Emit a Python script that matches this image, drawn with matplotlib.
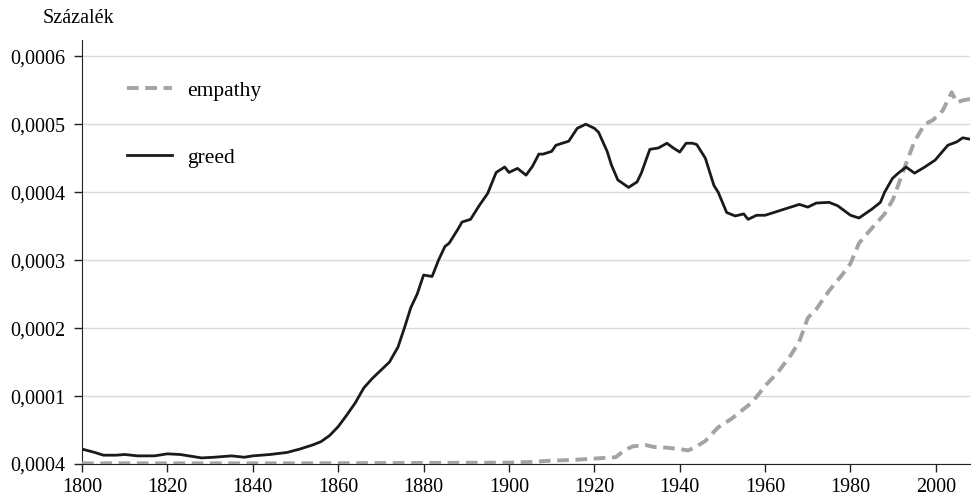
import matplotlib
matplotlib.use("Agg")
import matplotlib.pyplot as plt

plt.rcParams["font.family"] = ["Liberation Serif", "DejaVu Serif"]

greed_years = [1800, 1803, 1805, 1808, 1810, 1813, 1817, 1820, 1823, 1826, 1828, 1831, 1835, 1838,
               1840, 1844, 1848, 1851, 1854, 1856, 1858, 1860, 1862, 1864, 1866, 1868, 1870, 1872,
               1874, 1875.5, 1877, 1878.5, 1880, 1882, 1883.5, 1885, 1886, 1888, 1889, 1891, 1893,
               1895, 1897, 1899, 1900, 1902, 1904, 1905.5, 1907, 1908, 1910, 1911, 1914, 1916, 1918,
               1920, 1921, 1923, 1924, 1925.5, 1928, 1930, 1931, 1933, 1935, 1937, 1938.5, 1940,
               1941.5, 1943, 1944, 1946, 1948, 1949, 1951, 1953, 1955, 1956, 1958, 1960, 1962, 1965,
               1968, 1970, 1972, 1975, 1977, 1980, 1982, 1985, 1987, 1988, 1989.8, 1991, 1993, 1995,
               1997.4, 1999.8, 2002.8, 2004.9, 2006.3, 2008]
greed = [22, 17, 13, 13, 14, 12, 12, 15, 14, 11, 9, 10, 12, 10,
         12, 14, 17, 22, 28, 33, 42, 55, 72, 90, 112, 126, 138, 150,
         172, 200, 230, 250, 278, 276, 300, 320, 325, 345, 356, 360, 380,
         398, 429, 437, 429, 435, 425, 438, 456, 456, 460, 469, 475, 494, 500,
         494, 488, 460, 440, 418, 407, 415, 428, 463, 465, 472, 465, 459,
         472, 472, 470, 450, 410, 400, 370, 365, 368, 360, 366, 366, 370, 376,
         382, 378, 384, 385, 380, 366, 362, 375, 385, 400, 420, 427, 437, 428,
         437, 447, 469, 474, 480, 478]

empathy_years = [1800, 1850, 1900, 1905, 1910, 1915, 1920, 1925, 1927, 1929, 1932, 1934, 1937,
                 1940, 1942, 1944, 1946, 1949, 1952, 1954, 1957, 1960, 1963, 1966, 1968, 1970,
                 1972, 1975, 1978, 1980, 1982, 1985, 1988, 1990, 1992.3, 1995, 1997.4, 1999.3,
                 2001.6, 2003.7, 2004.9, 2006.3, 2008]
empathy = [1, 1, 2, 3, 5, 6, 8, 10, 20, 26, 28, 25, 24,
           22, 20, 26, 34, 54, 66, 76, 91, 115, 135, 160, 180, 215,
           228, 255, 278, 295, 325, 347, 368, 390, 430, 475, 500, 506,
           520, 547, 532, 535, 537]

y_ticks = [0, 0.0001, 0.0002, 0.0003, 0.0004, 0.0005, 0.0006]
y_labels = ["0,0004", "0,0001", "0,0002", "0,0003", "0,0004", "0,0005", "0,0006"]
x_ticks = list(range(1800, 2001, 20))

greed_vals = [v * 1e-6 for v in greed]
empathy_vals = [v * 1e-6 for v in empathy]

fig = plt.figure(figsize=(9.71, 4.99), dpi=100)
ax = fig.add_axes([0.0845, 0.0701, 0.9145, 0.8499])

ax.plot(empathy_years, empathy_vals, color="#a3a3a3", lw=2.8, ls=(0, (3.0, 1.7)),
        label="empathy", zorder=3)
ax.plot(greed_years, greed_vals, color="#1a1a1a", lw=2.0, label="greed", zorder=4)

ax.set_xlim(1800, 2008)
ax.set_ylim(0, 0.000624)
ax.set_xticks(x_ticks)
ax.set_yticks(y_ticks)
ax.set_yticklabels(y_labels)
ax.tick_params(labelsize=14.5, length=6, width=1, color="#222222")
ax.tick_params(axis="y", pad=6)
ax.tick_params(axis="x", pad=4)

ax.grid(axis="y", color="#d9d9d9", lw=1)
ax.set_axisbelow(True)
for s in ["top", "right"]:
    ax.spines[s].set_visible(False)
for s in ["left", "bottom"]:
    ax.spines[s].set_color("#222222")

leg = ax.legend(loc="upper left", bbox_to_anchor=(0.029, 0.95), frameon=False, fontsize=15.5,
                handlelength=2.1, handletextpad=0.7, labelspacing=2.2)

fig.text(0.044, 0.962, "Százalék", fontsize=14.5, va="center", ha="left")

fig.savefig("out.png", dpi=100)
